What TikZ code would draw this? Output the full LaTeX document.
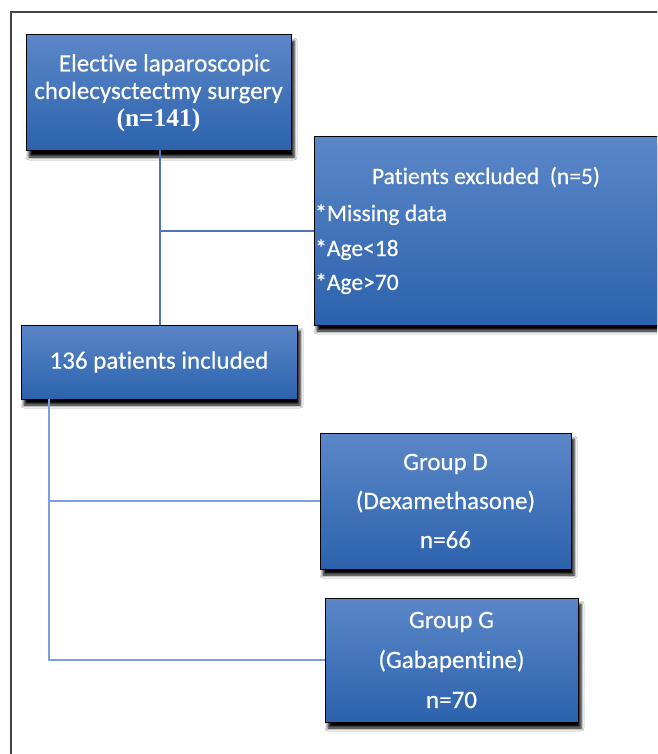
\documentclass[tikz,border=0pt]{standalone}
\usepackage{fontspec}
\setmainfont{Carlito}[Ligatures=NoCommon, FakeBold=0.4]
\newfontfamily\serifbold{Liberation Serif}
\usetikzlibrary{shadows.blur}
\definecolor{boxtop}{HTML}{5B87C8}
\definecolor{boxbot}{HTML}{2C62AD}
\definecolor{linkdark}{HTML}{4F72B8}
\definecolor{linklight}{HTML}{7C9FDD}
\definecolor{framegray}{HTML}{444444}
\tikzset{
  flowbox/.style={draw=black, line width=1pt, top color=boxtop, bottom color=boxbot,
    blur shadow={shadow xshift=3pt, shadow yshift=-6pt, shadow blur steps=4, shadow blur radius=3pt, shadow opacity=100},
    text=white, inner sep=0pt, align=center},
  link/.style={draw=#1, line width=1.1pt},
  bodytext/.style={text=white, inner sep=0pt, font=\fontsize{23.5}{25}\selectfont}
}
\begin{document}
\begin{tikzpicture}[x=1pt,y=-1pt]
\useasboundingbox (0,0) rectangle (657,754);
\clip (0,0) rectangle (657,754);
\fill[white] (0,0) rectangle (657,754);
% frame
\draw[framegray, line width=1.4pt] (11,760) -- (11,12) -- (665,12);
% boxes
\node[flowbox, minimum width=265pt, minimum height=116pt, font=\fontsize{25}{27.5}\selectfont]
  (b1) at (158.5,93) {\hspace*{12pt}Elective laparoscopic\\cholecysctectmy surgery\\{\serifbold\bfseries\fontsize{25.5}{27.5}\selectfont (n=141)}};
\node[flowbox, minimum width=350pt, minimum height=188pt] (exc) at (489,231) {};
\node[bodytext, anchor=base] (exct) at (486,184) {Patients excluded\ \ (n=5)};
\node[bodytext, anchor=base west] (m1) at (315,221) {*Missing data};
\node[bodytext, anchor=base west] (m2) at (315,256) {*Age<18};
\node[bodytext, anchor=base west] (m3) at (315,290) {*Age>70};
\node[flowbox, minimum width=276pt, minimum height=74pt, font=\fontsize{25}{25}\selectfont]
  (b3) at (159,362) {136 patients included};
\node[flowbox, minimum width=251pt, minimum height=136pt, font=\fontsize{25}{39}\selectfont]
  (gD) at (445.5,501) {Group D\\(Dexamethasone)\\n=66};
\node[flowbox, minimum width=253pt, minimum height=124pt, font=\fontsize{25}{40}\selectfont]
  (gG) at (451.5,660) {Group G\\(Gabapentine)\\n=70};
% connectors
\coordinate (j1) at (160,150);
\draw[link=linkdark] (j1) -- (j1 |- b3.north);
\draw[link=linkdark] (j1 |- exc.west) -- (exc.west);
\coordinate (trunk) at (49,399);
\draw[link=linklight] (trunk) |- (gG.west);
\draw[link=linklight] (trunk |- gD.west) -- (gD.west);
\end{tikzpicture}
\end{document}
